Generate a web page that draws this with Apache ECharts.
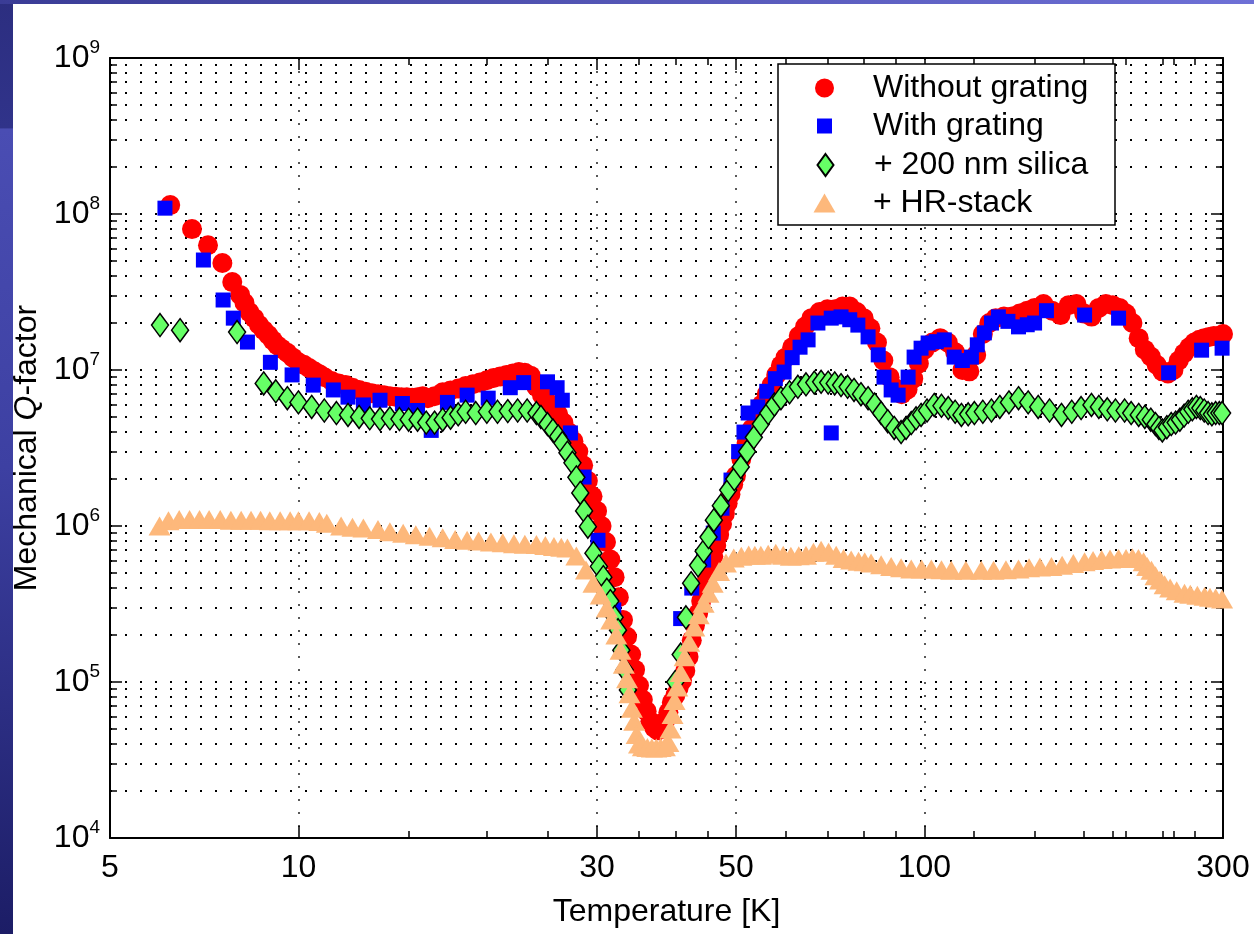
<!DOCTYPE html>
<html><head><meta charset="utf-8">
<script src="https://cdn.jsdelivr.net/npm/echarts@6/dist/echarts.min.js"></script>
<style>html,body{margin:0;padding:0;background:#fff}#c{width:1254px;height:934px}</style>
</head><body><div id="c"></div>
<script>
const FONT = '"Liberation Sans", Arial, Helvetica, sans-serif';

// ---- axis ticks / labels ----
const xTickLabels = [5, 10, 30, 50, 100, 300];
const xMajorTicks = [10, 30, 50, 100];
const xMinorTicks = [15, 20, 25, 35, 40, 45, 60, 70, 80, 90, 120, 150, 180, 200, 210, 240, 250, 270];
const yLabelValues = [1e4, 1e5, 1e6, 1e7, 1e8, 1e9];
const yMajorTicks = [1e5, 1e6, 1e7, 1e8];
const yMinorTicks = [2e4,3e4,4e4,5e4,6e4,7e4,8e4,9e4, 2e5,3e5,4e5,5e5,6e5,7e5,8e5,9e5,
  2e6,3e6,4e6,5e6,6e6,7e6,8e6,9e6, 2e7,3e7,4e7,5e7,6e7,7e7,8e7,9e7, 2e8,3e8,4e8,5e8,6e8,7e8,8e8,9e8];

// ---- series: [temperature K, Q] ----
const withoutGrating = [[6.24,1.14e8],[6.76,8.0e7],[7.17,6.3e7],[7.56,4.85e7],[7.84,3.66e7],[8.07,3.03e7],
[8.2,2.7e7],[8.35,2.35e7],[8.5,2.15e7],[8.65,1.95e7],[8.8,1.8e7],[8.95,1.68e7],[9.1,1.55e7],[9.25,1.44e7],[9.4,1.37e7],[9.6,1.29e7],[9.8,1.2e7],
[10.0,1.12e7],[10.2,1.08e7],[10.4,1.03e7],[10.6,9.8e6],[10.8,9.4e6],[11.0,9.0e6],[11.3,8.5e6],[11.6,8.2e6],[11.9,8.0e6],[12.2,7.7e6],[12.5,7.45e6],
[12.8,7.25e6],[13.1,7.1e6],[13.4,7.0e6],[13.7,6.9e6],[14.0,6.8e6],[14.3,6.75e6],[14.6,6.7e6],[14.9,6.7e6],[15.2,6.65e6],[15.5,6.7e6],[15.8,6.8e6],
[16.1,6.6e6],[16.5,6.8e6],[17.0,7.2e6],[17.5,7.4e6],[18.0,7.6e6],[18.5,7.9e6],[19.0,8.1e6],[19.5,8.3e6],[20.0,8.6e6],[20.5,8.9e6],[21.0,9.1e6],
[21.5,9.3e6],[22.0,9.5e6],[22.5,9.7e6],[23.0,9.6e6],[23.5,9.2e6],[24.0,7.8e6],[24.5,6.9e6],[25.0,6.2e6],[25.5,5.7e6],[26.0,5.2e6],[26.5,4.6e6],
[27.0,4.0e6],[27.5,3.5e6],[28.0,3.0e6],[28.5,2.45e6],[29.0,1.95e6],[29.5,1.55e6],[30.0,1.25e6],[30.5,1.0e6],[31.0,7.9e5],[31.5,6.1e5],[32.0,4.7e5],
[32.5,3.5e5],[33.0,2.5e5],[33.5,1.95e5],[34.0,1.5e5],[34.5,1.2e5],[35.0,9.5e4],[35.5,7.7e4],[36.0,6.5e4],[36.5,5.6e4],[37.0,5.1e4],[37.5,4.9e4],
[38.0,5.0e4],[38.5,5.6e4],[39.0,6.4e4],[39.5,7.4e4],[40.0,8.2e4],[40.5,9.2e4],[41.0,1.02e5],[41.5,1.18e5],[42.0,1.45e5],[42.5,1.85e5],[43.0,2.3e5],
[43.5,2.75e5],[44.0,3.3e5],[44.5,3.9e5],[45.0,4.6e5],[45.5,5.4e5],[46.0,6.4e5],[46.5,7.5e5],[47.0,8.8e5],[47.5,1.03e6],[48.0,1.2e6],[48.5,1.4e6],
[49.0,1.6e6],[49.5,1.85e6],[50,2.1e6],[51,2.7e6],[52,3.4e6],[53,4.2e6],[54,5.1e6],[55,6.0e6],[56,7.0e6],[57,8.0e6],[58,9.3e6],[59,1.07e7],[60,1.2e7],
[61.5,1.4e7],[63,1.65e7],[64.5,1.9e7],[66,2.15e7],[68,2.35e7],[70,2.45e7],[72,2.45e7],[74,2.55e7],[76,2.55e7],[78,2.35e7],[80,2.15e7],[82,1.85e7],
[84,1.5e7],[86,1.15e7],[88,9.0e6],[90,7.6e6],[92,7.0e6],[94,7.5e6],[96,8.8e6],[98,1.1e7],[100,1.35e7],[103,1.5e7],[106,1.6e7],[109,1.5e7],[112,1.3e7],
[115,1.0e7],[118,9.8e6],[121,1.25e7],[124,1.7e7],[127,2.0e7],[130,2.15e7],[134,2.2e7],[138,2.2e7],[142,2.3e7],[146,2.4e7],[150,2.5e7],[155,2.65e7],
[160,2.4e7],[165,2.25e7],[170,2.6e7],[175,2.65e7],[180,2.3e7],[185,2.2e7],[190,2.5e7],[195,2.65e7],[200,2.6e7],[205,2.5e7],[210,2.3e7],[215,2.0e7],
[220,1.6e7],[225,1.35e7],[230,1.22e7],[235,1.08e7],[240,9.8e6],[245,9.5e6],[250,1.0e7],[255,1.15e7],[260,1.28e7],[265,1.4e7],[270,1.5e7],[275,1.56e7],
[280,1.6e7],[285,1.63e7],[290,1.65e7],[295,1.65e7],[300,1.7e7]];

const withGrating = [[6.12,1.09e8],[7.05,5.07e7],[7.58,2.81e7],[7.87,2.15e7],[8.29,1.51e7],[9.02,1.12e7],[9.77,9.3e6],[10.56,8.0e6],[11.37,7.45e6],
[12.0,6.7e6],[12.7,5.97e6],[13.5,6.4e6],[14.66,6.1e6],[15.5,5.5e6],[16.3,4.1e6],[17.3,6.2e6],[18.6,6.9e6],[20.1,6.6e6],[21.8,7.7e6],[22.9,8.3e6],
[25.0,8.4e6],[25.9,7.7e6],[26.4,6.4e6],[27.2,3.95e6],[28.6,2.06e6],[30.1,8.1e5],[31.9,2.9e5],
[40.8,2.55e5],[42.5,4.0e5],[44.4,6.05e5],[46.0,9.0e5],[47.5,1.3e6],[49.1,1.97e6],[50.5,3.0e6],[51.5,4.0e6],[52.3,5.3e6],[54.2,5.8e6],[56.0,7.3e6],
[57.8,8.8e6],[59.7,9.7e6],[61.5,1.2e7],[63.3,1.4e7],[65.2,1.56e7],[67.6,2.0e7],[71.0,2.15e7],[71.0,3.95e6],[73.6,2.19e7],[76.0,2.1e7],[78.3,1.94e7],
[81.3,1.63e7],[84.4,1.25e7],[86.2,9.0e6],[88.5,7.45e6],[90.8,6.9e6],[94.2,9.0e6],[96.3,1.21e7],[98.8,1.38e7],[101.4,1.49e7],[104.5,1.52e7],
[107.6,1.56e7],[111.6,1.21e7],[115.0,1.15e7],[118.9,1.21e7],[121.5,1.45e7],[124.7,1.73e7],[128.0,2.0e7],[131.3,2.19e7],[136.0,2.05e7],[141.4,1.89e7],
[146.0,1.95e7],[150.0,2.0e7],[156.7,2.4e7],[180.3,2.25e7],[204.3,2.15e7],[245.6,9.6e6],[277.3,1.34e7],[299,1.38e7]];

const silica200nm = [[6.01,1.94e7],[6.47,1.8e7],[7.98,1.75e7],[8.8,8.2e6],[9.2,7.3e6],[9.6,6.6e6],[10.0,6.2e6],[10.5,5.8e6],[11.0,5.5e6],[11.5,5.3e6],
[12.0,5.15e6],[12.5,5.0e6],[13.0,4.9e6],[13.5,4.85e6],[14.0,4.9e6],[14.5,4.85e6],[15.0,4.8e6],[15.5,4.8e6],[16.0,4.6e6],[16.5,4.6e6],[17.0,4.8e6],
[17.5,4.95e6],[18.0,5.2e6],[18.5,5.4e6],[19.2,5.3e6],[20.0,5.4e6],[20.8,5.4e6],[21.6,5.45e6],[22.4,5.5e6],[23.2,5.5e6],[24.0,5.3e6],[24.4,5.0e6],
[25.0,4.5e6],[25.5,4.1e6],[26.0,3.75e6],[26.4,3.4e6],[26.9,2.95e6],[27.4,2.54e6],[27.8,2.05e6],[28.2,1.63e6],[28.6,1.25e6],[29.0,9.9e5],[29.6,6.7e5],
[30.2,5.5e5],[30.7,4.7e5],[31.1,3.9e5],[31.5,3.3e5],[32.0,2.6e5],[32.4,2.15e5],[32.8,1.6e5],[33.2,1.2e5],[33.6,8.9e4],
[40.0,1.0e5],[40.8,1.5e5],[41.6,2.6e5],[42.4,4.3e5],[43.5,5.6e5],[44.4,6.9e5],[45.2,8.5e5],
[46.1,1.09e6],[47.3,1.35e6],[48.6,1.7e6],[49.7,2.0e6],[50.9,2.39e6],[52.1,3.0e6],[53.4,3.7e6],[54.8,4.5e6],[56.3,5.3e6],[57.6,6.0e6],[59.0,6.6e6],
[60.9,7.2e6],[62.8,7.8e6],[64.7,8.1e6],[66.7,8.3e6],[68.4,8.4e6],[70.2,8.3e6],[71.9,8.2e6],[73.6,8.0e6],[75.4,7.8e6],[77.2,7.45e6],[79.2,7.0e6],
[81.3,6.6e6],[83.3,6.0e6],[85.3,5.3e6],[87.4,4.7e6],[89.5,4.25e6],[91.8,4.0e6],[93.5,4.25e6],[95.3,4.57e6],[97.0,4.9e6],[98.8,5.15e6],[101,5.5e6],
[103.7,5.97e6],[106.5,5.9e6],[109.2,5.7e6],[112,5.4e6],[114.6,5.15e6],[117.5,5.2e6],[120.2,5.3e6],[124,5.4e6],[128,5.5e6],[132,5.8e6],[136.5,6.2e6],
[141.4,6.6e6],[146.5,6.2e6],[152,5.8e6],[158.5,5.5e6],[165.6,5.15e6],[172,5.4e6],[178,5.7e6],[184.9,5.97e6],[190,5.8e6],[196,5.6e6],[202,5.5e6],
[208.9,5.5e6],[214,5.3e6],[220,5.15e6],[225,5.0e6],[230,4.8e6],[234,4.5e6],[237,4.25e6],[240,4.1e6],[244,4.3e6],[248,4.5e6],[252,4.6e6],[256,4.8e6],
[260,5.1e6],[264,5.4e6],[268,5.6e6],[272,5.8e6],[276,5.7e6],[280,5.5e6],[284,5.3e6],[288,5.2e6],[292,5.3e6],[296,5.3e6],[299,5.3e6]];

const hrStack = [[6.0,1.0e6],[6.2,1.08e6],[6.45,1.1e6],[6.7,1.1e6],[6.95,1.1e6],[7.2,1.1e6],[7.5,1.1e6],[7.8,1.09e6],[8.1,1.09e6],[8.4,1.09e6],
[8.7,1.09e6],[9.0,1.08e6],[9.35,1.08e6],[9.7,1.08e6],[10.0,1.08e6],[10.4,1.08e6],[10.8,1.07e6],[11.1,1.04e6],[11.7,1.0e6],[12.2,9.8e5],[12.7,9.7e5],
[13.4,9.5e5],[14.0,9.2e5],[14.7,9.0e5],[15.4,8.8e5],[16.2,8.6e5],[17.0,8.4e5],[17.8,8.2e5],[18.6,8.1e5],[19.4,8.0e5],[20.3,7.9e5],[21.2,7.8e5],
[22.1,7.7e5],[23.0,7.65e5],[24.0,7.6e5],[24.8,7.5e5],[25.6,7.4e5],[26.3,7.3e5],[26.9,7.23e5],[27.8,6.43e5],[28.8,5.22e5],[29.6,4.3e5],[30.4,3.61e5],
[31.1,2.98e5],[31.6,2.5e5],[32.2,2.0e5],[32.7,1.6e5],[33.1,1.3e5],[33.5,1.05e5],[33.8,8.4e4],[34.1,6.8e4],[34.4,5.6e4],[34.7,4.6e4],[35.0,4.0e4],
[35.5,3.85e4],[36.1,3.8e4],[36.7,3.77e4],[37.3,3.77e4],[37.9,3.8e4],[38.5,3.85e4],[39.0,4.1e4],[39.3,5.0e4],[39.6,6.2e4],[39.9,7.6e4],[40.3,9.3e4],
[40.8,1.15e5],[41.4,1.45e5],[42.1,1.8e5],[42.9,2.25e5],[43.6,2.7e5],[44.4,3.2e5],[45.2,3.7e5],[45.9,4.3e5],[47.0,5.1e5],[48.2,5.8e5],[49.6,6.24e5],
[51.0,6.4e5],[52.4,6.52e5],[53.6,6.5e5],
[54.8,6.5e5],[56.3,6.6e5],[57.9,6.7e5],[59.5,6.5e5],[61.2,6.4e5],[63.0,6.45e5],[64.7,6.5e5],[66.5,6.8e5],[68.4,7.0e5],[70.3,6.8e5],[72.3,6.5e5],
[74.3,6.2e5],[76.4,6.05e5],[78.5,5.95e5],[80.3,5.9e5],[82.2,5.8e5],[85.3,5.65e5],[88.5,5.5e5],[91.8,5.4e5],[95.3,5.3e5],[99,5.3e5],[102.6,5.3e5],
[106.5,5.25e5],[110.4,5.2e5],[116.5,5.2e5],[123.3,5.2e5],[129,5.2e5],[135,5.25e5],[141.4,5.3e5],[147,5.4e5],[153,5.45e5],[159.6,5.5e5],[166,5.6e5],
[173,5.75e5],[180.3,5.9e5],[186,6.0e5],[192,6.1e5],[198,6.15e5],[204.3,6.2e5],[210,6.2e5],[215,6.25e5],[219.8,6.2e5],[224,5.9e5],[227,5.5e5],
[230.6,5.2e5],[234,4.8e5],[238,4.5e5],[242,4.2e5],[247,4.0e5],[253,3.85e5],[260.4,3.7e5],[266,3.65e5],[273,3.6e5],[280.4,3.55e5],[286,3.5e5],
[292,3.45e5],[299,3.4e5]];

const seriesNames = ['Without grating', 'With grating', '+ 200 nm silica', '+ HR-stack'];

const chart = echarts.init(document.getElementById('c'), null, {renderer: 'canvas'});

const FS = 32;
const axisBlack = {color: '#000', width: 2};
const tickStyle = {color: '#000', width: 1.5};
const dotRow = {color: '#000', width: 2, type: [2, 13], cap: 'butt'};
const dotCol = {color: '#222', width: 1.5, type: [2, 11], cap: 'butt'};

function xAxisDef(pos, ticks, len, main) {
  return {
    type: 'log', logBase: 10, min: 5, max: 300, position: pos,
    axisLine: {show: main, onZero: false, lineStyle: axisBlack},
    axisTick: {show: true, inside: true, length: len, customValues: ticks, lineStyle: tickStyle},
    axisLabel: {show: false},
    splitLine: {show: false}
  };
}
function yAxisDef(pos, ticks, len, main) {
  return {
    type: 'log', logBase: 10, min: 1e4, max: 1e9, position: pos,
    axisLine: {show: main, onZero: false, lineStyle: axisBlack},
    axisTick: {show: true, inside: true, length: len, customValues: ticks, lineStyle: tickStyle},
    axisLabel: {show: false},
    splitLine: {show: false}
  };
}

const xMain = xAxisDef('bottom', xMajorTicks, 12, true);
xMain.axisLabel = {show: true, customValues: xTickLabels, fontSize: FS, color: '#000', fontFamily: FONT, margin: 14,
  formatter: v => String(Math.round(v))};
xMain.splitLine = {show: true, lineStyle: dotCol};
xMain.name = 'Temperature [K]';
xMain.nameLocation = 'middle';
xMain.nameGap = 58;
xMain.nameTextStyle = {fontSize: FS, color: '#000', fontFamily: FONT};

const yMain = yAxisDef('left', yMajorTicks, 12, true);
yMain.axisLabel = {show: true, customValues: yLabelValues, margin: 10,
  formatter: v => '{b|10}{s|' + Math.round(Math.log10(v)) + '}',
  rich: {
    b: {fontSize: FS, lineHeight: 40, color: '#000', fontFamily: FONT},
    s: {fontSize: 19, lineHeight: 12, verticalAlign: 'top', color: '#000', fontFamily: FONT}
  }};
yMain.splitLine = {show: true, lineStyle: dotRow};
yMain.name = '{n|Mechanical }{q|Q}{n|-factor}';
yMain.nameLocation = 'middle';
yMain.nameGap = 66;
yMain.nameTextStyle = {fontSize: FS, color: '#000', fontFamily: FONT, rich: {
  n: {fontSize: FS, color: '#000', fontFamily: FONT},
  q: {fontSize: FS, color: '#000', fontFamily: FONT, fontStyle: 'italic'}
}};

const yMinor = yAxisDef('left', yMinorTicks, 7, false);
yMinor.splitLine = {show: true, lineStyle: dotRow};

const legendFont = {fontSize: FS, color: '#000', fontFamily: FONT};
function legendDef(name, top, left, w, h, padLeft) {
  return {
    show: true, data: [name], top: top, left: left, itemWidth: w, itemHeight: h, padding: 0,
    selectedMode: false, orient: 'vertical', z: 6,
    textStyle: Object.assign({padding: [0, 0, 0, padLeft]}, legendFont)
  };
}

const option = {
  animation: false,
  backgroundColor: '#ffffff',
  grid: {left: 110, right: 31, top: 58, bottom: 96, containLabel: false, outerBoundsMode: 'none'},
  xAxis: [xMain, xAxisDef('bottom', xMinorTicks, 7, false), xAxisDef('top', xMajorTicks, 12, true), xAxisDef('top', xMinorTicks, 7, false)],
  yAxis: [yMain, yMinor, yAxisDef('right', yMajorTicks, 12, true), yAxisDef('right', yMinorTicks, 7, false)],
  legend: [
    legendDef(seriesNames[0], 72, 815, 19, 19, 34),
    legendDef(seriesNames[1], 110, 817, 15, 15, 36),
    legendDef(seriesNames[2], 149, 816.5, 16, 22, 35.5),
    legendDef(seriesNames[3], 187, 813.5, 22, 19, 32.5)
  ],
  graphic: [
    {type: 'rect', z: 3, shape: {x: 778, y: 64, width: 337, height: 161}, style: {fill: '#fff', stroke: '#000', lineWidth: 1.5}},
    {type: 'rect', z: 10, shape: {x: 0, y: 0, width: 13, height: 934}, style: {fill: new echarts.graphic.LinearGradient(0, 0, 0, 1, [
      {offset: 0, color: '#2c2e80'}, {offset: 0.137, color: '#30338a'}, {offset: 0.138, color: '#4a4db3'},
      {offset: 0.5, color: '#3d40a2'}, {offset: 1, color: '#1c1d66'}])}},
    {type: 'rect', z: 10, shape: {x: 0, y: 0, width: 1254, height: 4}, style: {fill: new echarts.graphic.LinearGradient(0, 0, 1, 0, [
      {offset: 0, color: '#3a3c96'}, {offset: 1, color: '#6e70d6'}])}}
  ],
  series: [
    {name: seriesNames[0], type: 'scatter', data: withoutGrating, symbol: 'circle', symbolSize: 20,
      itemStyle: {color: '#ff0000', opacity: 1}, emphasis: {disabled: true}, z: 2},
    {name: seriesNames[1], type: 'scatter', data: withGrating, symbol: 'rect', symbolSize: 15,
      itemStyle: {color: '#0000ff', opacity: 1}, emphasis: {disabled: true}, z: 2},
    {name: seriesNames[2], type: 'scatter', data: silica200nm, symbol: 'diamond', symbolSize: [17, 23],
      itemStyle: {color: '#66ff66', borderColor: '#000', borderWidth: 1.5, opacity: 1}, emphasis: {disabled: true}, z: 2},
    {name: seriesNames[3], type: 'scatter', data: hrStack, symbol: 'triangle', symbolSize: [22, 19],
      itemStyle: {color: '#fdb87b', opacity: 1}, emphasis: {disabled: true}, z: 2}
  ]
};
chart.setOption(option);
</script></body></html>
